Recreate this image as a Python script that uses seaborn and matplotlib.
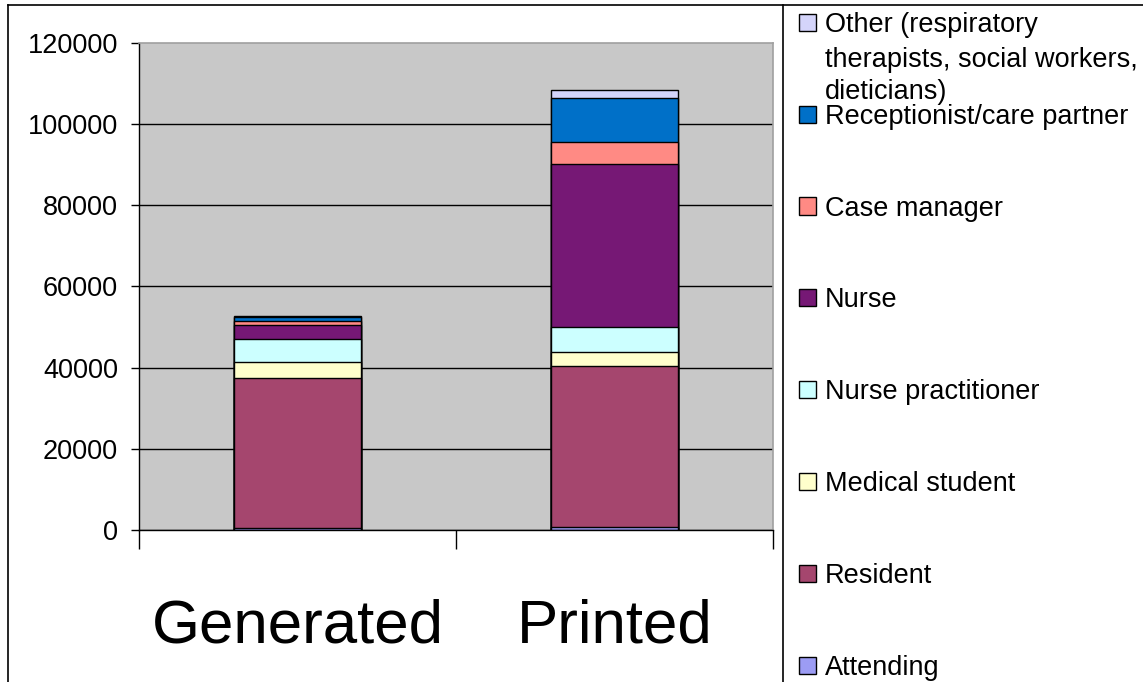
import numpy as np
import seaborn as sns
import matplotlib.pyplot as plt
from matplotlib.patches import Patch
from matplotlib.lines import Line2D

# Data (bottom layer first)
groups = ['Generated', 'Printed']
roles = ['Attending', 'Resident', 'Medical student', 'Nurse practitioner',
         'Nurse', 'Case manager', 'Receptionist/care partner', 'Other (respiratory']
attending = [400, 800]
resident = [37000, 39500]
medical_student = [4100, 3600]
nurse_practitioner = [5600, 6200]
nurse = [3300, 40000]
case_manager = [1200, 5600]
receptionist = [800, 10700]
other = [400, 2000]
y_ticks = [0, 20000, 40000, 60000, 80000, 100000, 120000]

colors = ['#9c9cf4', '#a5466e', '#ffffcc', '#ccffff',
          '#761875', '#ff8a84', '#0070c8', '#d4d4fa']

plt.rcParams['font.family'] = ['Liberation Sans', 'DejaVu Sans']

layers = np.array([attending, resident, medical_student, nurse_practitioner,
                   nurse, case_manager, receptionist, other])
stacked = np.cumsum(layers, axis=0)

fig = plt.figure(figsize=(11.43, 6.82), dpi=100)
ax = fig.add_axes([0.1216, 0.2229, 0.5547, 0.7141])
ax.set_facecolor('#c8c8c8')

# draw cumulative totals from the tallest down so each layer shows
for values, color in zip(stacked[::-1], colors[::-1]):
    sns.barplot(x=groups, y=values, color=color, saturation=1, width=0.4,
                edgecolor='black', linewidth=1, errorbar=None, ax=ax)

ax.set_xlim(-0.5, 1.5)
ax.set_ylim(0, 120000)
ax.set_yticks(y_ticks)
ax.set_xlabel('')
ax.set_ylabel('')

# gridlines
ax.set_axisbelow(True)
ax.yaxis.grid(True, color='black', linewidth=1)
ax.get_ygridlines()[-1].set_visible(False)

# spines
for side in ['top', 'right']:
    ax.spines[side].set_color('#a0a0a0')
    ax.spines[side].set_linewidth(1.2)
for side in ['left', 'bottom']:
    ax.spines[side].set_color('black')
    ax.spines[side].set_linewidth(1)

# ticks
ax.tick_params(axis='y', length=6, width=1, pad=9, labelsize=19.5, colors='black')
ax.tick_params(axis='x', which='major', length=0, pad=49, labelsize=44.5)
ax.set_xticks([-0.5, 0.5, 1.5], minor=True)
ax.tick_params(axis='x', which='minor', length=14, width=1, color='black')

# legend, top entry first
handles = [Patch(facecolor=c, edgecolor='black', linewidth=1) for c in colors[::-1]]
leg = ax.legend(handles, roles[::-1], loc='upper left',
                bbox_to_anchor=(799 / 1143, 1 - 12 / 682), bbox_transform=fig.transFigure,
                frameon=False, borderpad=0, borderaxespad=0, fontsize=19.5,
                handlelength=0.63, handleheight=0.6, handletextpad=0.33,
                labelspacing=2.43)
ax.annotate('therapists, social workers,\ndieticians)', xy=(0, 0),
            xycoords=leg.get_texts()[0], xytext=(0, -6.5), textcoords='offset points',
            ha='left', va='top', fontsize=19.5, linespacing=1.3, zorder=6,
            annotation_clip=False)

# chart frame lines
fig.add_artist(Line2D([8 / 1143, 8 / 1143], [0, 1 - 5 / 682], color='black', lw=1.2))
fig.add_artist(Line2D([8 / 1143, 1], [1 - 5 / 682, 1 - 5 / 682], color='black', lw=1.2))
fig.add_artist(Line2D([783 / 1143, 783 / 1143], [0, 1 - 5 / 682], color='black', lw=1.2))

fig.savefig('out.png', dpi=100)
